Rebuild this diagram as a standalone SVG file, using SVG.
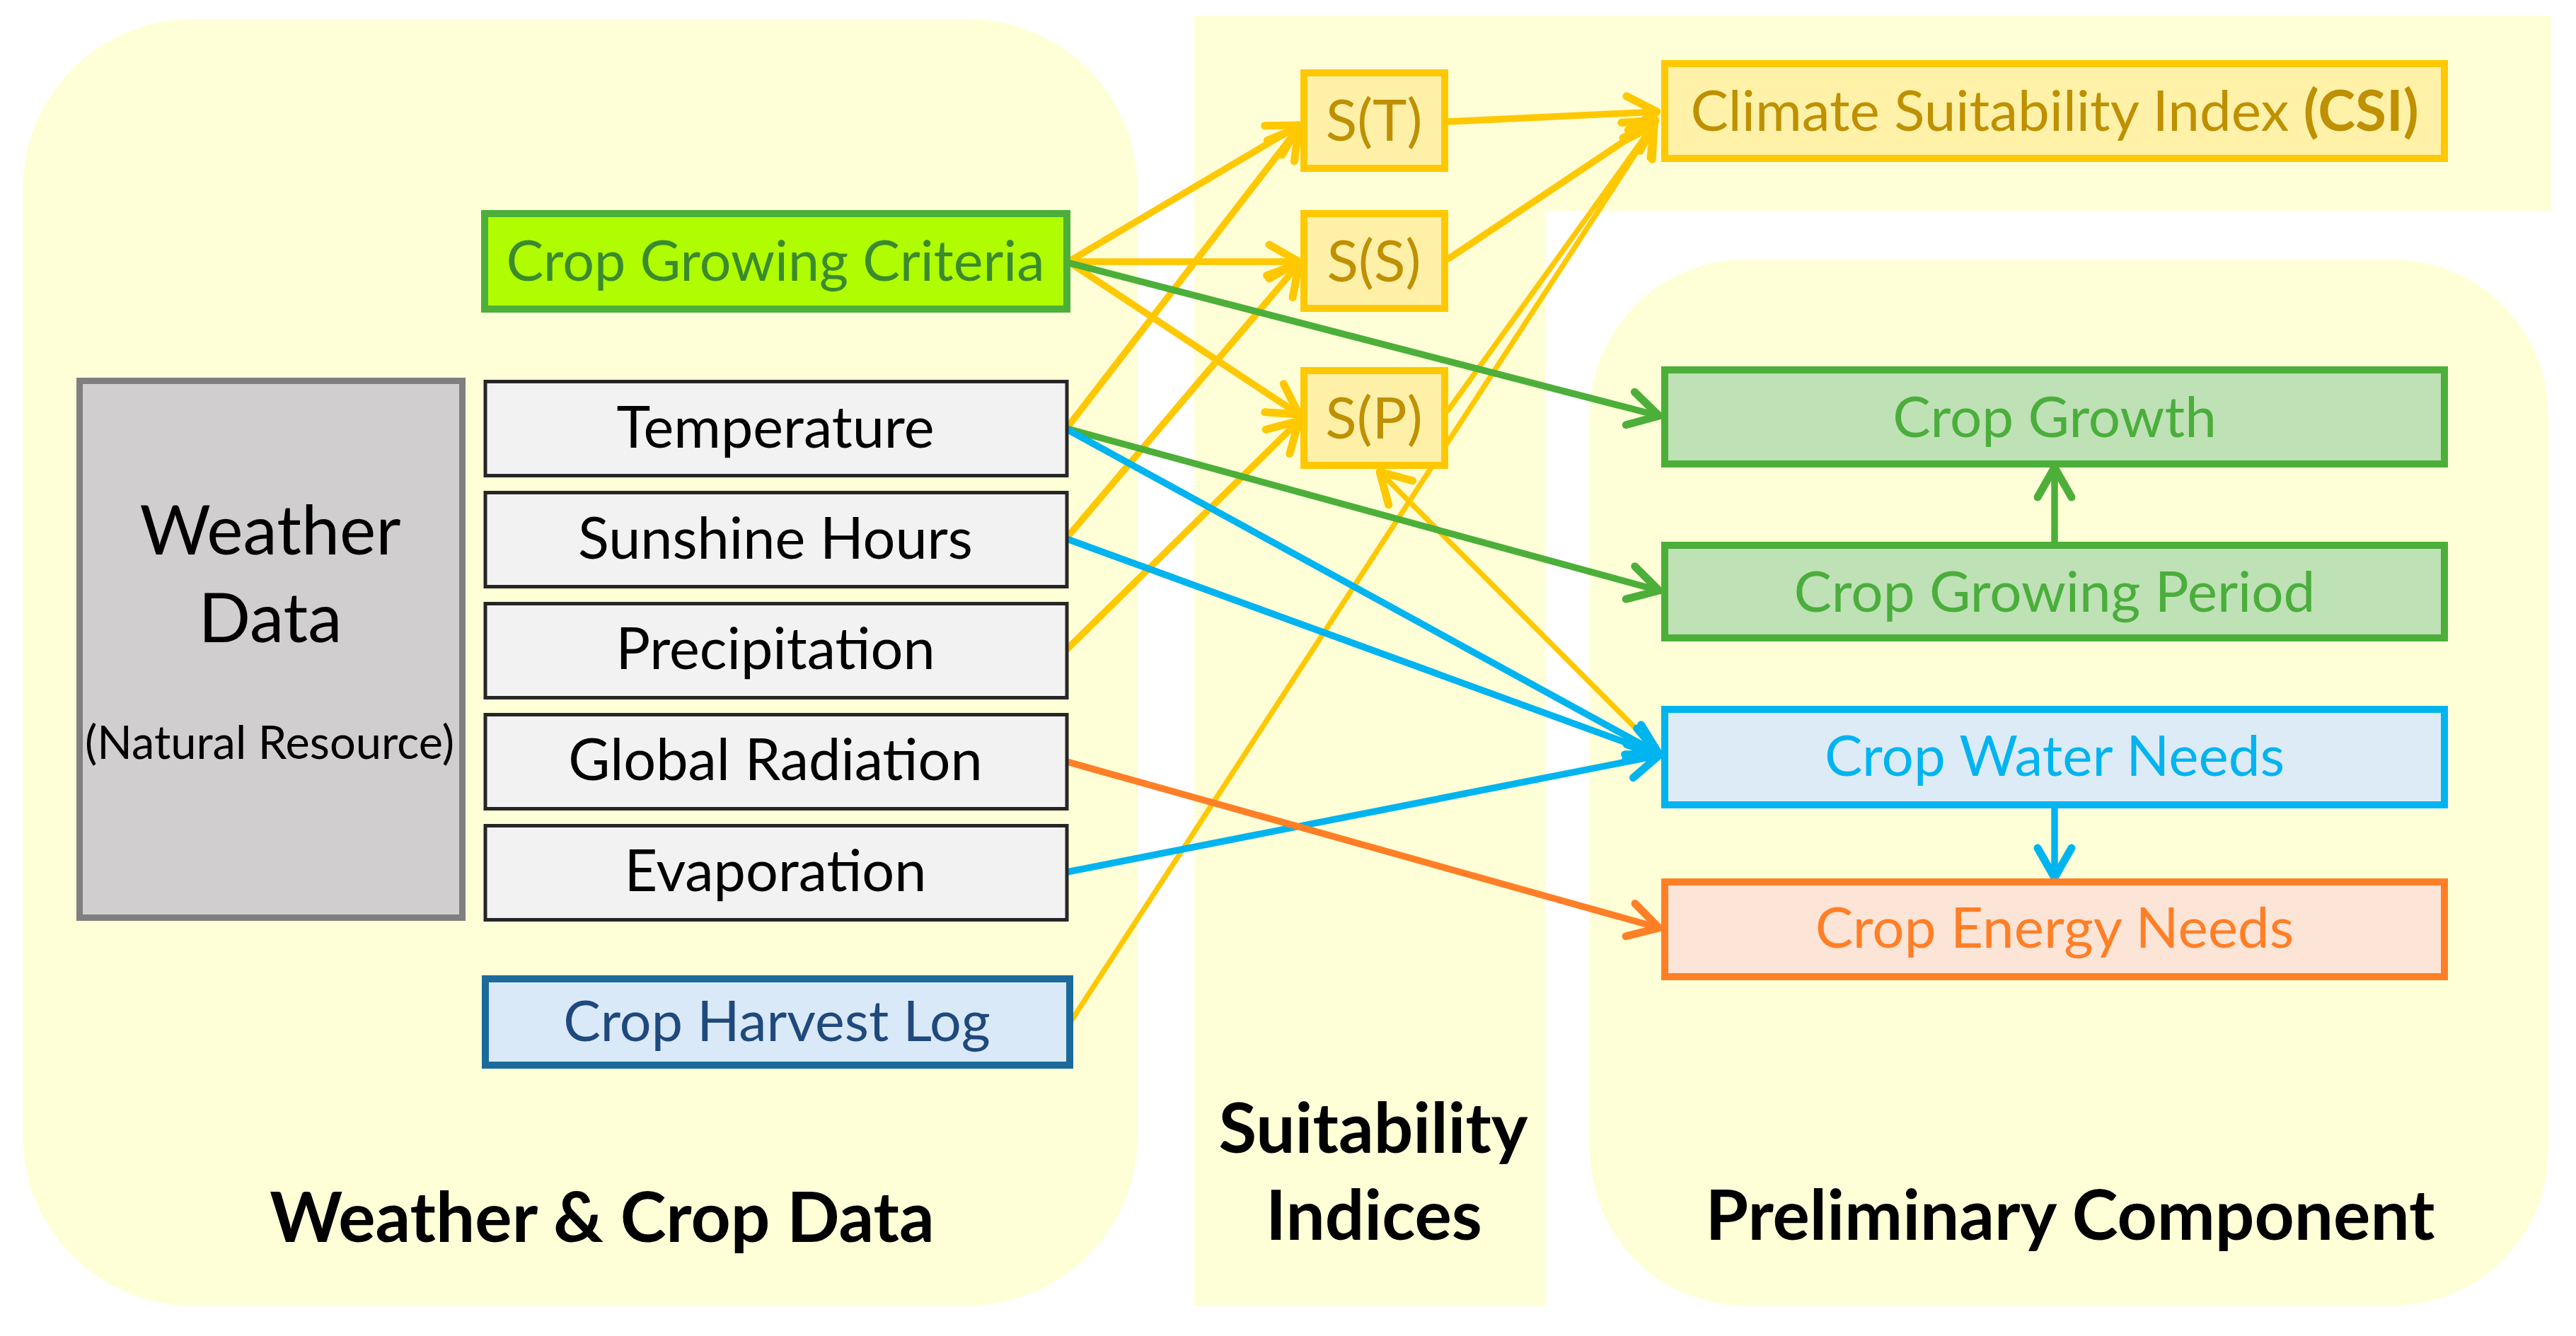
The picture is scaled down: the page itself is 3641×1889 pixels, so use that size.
<svg xmlns="http://www.w3.org/2000/svg" width="3641" height="1889" viewBox="0 0 3641 1889">
<style>
.bg{fill:#FFFFD7;stroke:none}
.t{font-family:Lato,"Liberation Sans",sans-serif;text-anchor:middle}
.b{font-weight:bold;fill:#000}
.wi{fill:#F2F2F2;stroke:#262626;stroke-width:5}
.sn{fill:#FFF0A8;stroke:#FFC800;stroke-width:10}
.st{fill:#BF9000;font-size:82px}
.wt{fill:#000;font-size:81px}
.rt{font-size:80px}
.ln{fill:none;stroke-width:9.5;stroke-linecap:round}
.thin{stroke-width:7.5}
.y{stroke:#FFC800;marker-end:url(#mY)}
.g{stroke:#4CAF3A;marker-end:url(#mG)}
.c{stroke:#00B4F0;marker-end:url(#mC)}
.o{stroke:#FF7F27;marker-end:url(#mO)}
</style>
<defs>
<marker id="mY" markerUnits="userSpaceOnUse" viewBox="-60 -35 70 70" markerWidth="70" markerHeight="70" refX="0" refY="0" orient="auto"><path d="M-42,-24 L0,0 L-42,24" fill="none" stroke="#FFC800" stroke-width="11" stroke-linecap="round" stroke-linejoin="round"/></marker>
<marker id="mG" markerUnits="userSpaceOnUse" viewBox="-60 -35 70 70" markerWidth="70" markerHeight="70" refX="0" refY="0" orient="auto"><path d="M-42,-24 L0,0 L-42,24" fill="none" stroke="#4CAF3A" stroke-width="11" stroke-linecap="round" stroke-linejoin="round"/></marker>
<marker id="mC" markerUnits="userSpaceOnUse" viewBox="-60 -35 70 70" markerWidth="70" markerHeight="70" refX="0" refY="0" orient="auto"><path d="M-42,-24 L0,0 L-42,24" fill="none" stroke="#00B4F0" stroke-width="11" stroke-linecap="round" stroke-linejoin="round"/></marker>
<marker id="mO" markerUnits="userSpaceOnUse" viewBox="-60 -35 70 70" markerWidth="70" markerHeight="70" refX="0" refY="0" orient="auto"><path d="M-42,-24 L0,0 L-42,24" fill="none" stroke="#FF7F27" stroke-width="11" stroke-linecap="round" stroke-linejoin="round"/></marker>
</defs>
<rect width="3641" height="1889" fill="#FFFFFF"/>
<g id="backgrounds">
<rect class="bg" x="32" y="27" width="1576" height="1819" rx="240" ry="240"/>
<rect class="bg" x="1688" y="22" width="496" height="1824"/>
<rect class="bg" x="2184" y="22" width="1422" height="276"/>
<rect class="bg" x="2247" y="367" width="1355" height="1479" rx="220" ry="220"/>
</g>
<g id="connectors">
<line class="ln y" x1="1510" y1="370" x2="1836" y2="177"/>
<line class="ln y" x1="1510" y1="370" x2="1836" y2="370"/>
<line class="ln y" x1="1510" y1="370" x2="1836" y2="586"/>
<line class="ln y" x1="1508" y1="605" x2="1836" y2="180"/>
<line class="ln y" x1="1508" y1="760" x2="1836" y2="373"/>
<line class="ln y" x1="1508" y1="918" x2="1836" y2="595"/>
<line class="ln y" x1="2047" y1="172" x2="2342" y2="158"/>
<line class="ln y" x1="2047" y1="366" x2="2340" y2="170"/>
<line class="ln y thin" x1="2047" y1="580" x2="2338" y2="175"/>
<line class="ln y thin" x1="1515" y1="1442" x2="2338" y2="177"/>
<line class="ln y thin" x1="2350" y1="1068" x2="1950" y2="667"/>
<line class="ln g" x1="1512" y1="372" x2="2345" y2="588"/>
<line class="ln g" x1="1508" y1="606" x2="2345" y2="835"/>
<line class="ln g" x1="2904" y1="768" x2="2904" y2="661"/>
<line class="ln c" x1="1508" y1="607" x2="2345" y2="1066"/>
<line class="ln c" x1="1508" y1="762" x2="2345" y2="1067"/>
<line class="ln c" x1="1508" y1="1233" x2="2345" y2="1068"/>
<line class="ln c" x1="2904" y1="1143" x2="2904" y2="1241"/>
<line class="ln o" x1="1508" y1="1077" x2="2345" y2="1312"/>
</g>
<g id="node-weather-data">
<rect x="112.5" y="538.5" width="541" height="759" fill="#D0CECE" stroke="#7F7F7F" stroke-width="9"/>
<text class="t" x="382" y="784" font-size="97" fill="#000">Weather</text>
<text class="t" x="382" y="908" font-size="97" fill="#000">Data</text>
<text class="t" x="381" y="1073" font-size="65" fill="#000">(Natural Resource)</text>
</g>
<g id="node-crop-growing-criteria">
<rect x="685" y="302" width="823" height="135" fill="#B0FC00" stroke="#4CAF3A" stroke-width="10"/>
<text class="t" x="1096" y="397" font-size="79" fill="#3A8A2E">Crop Growing Criteria</text>
</g>
<g id="node-temperature"><rect class="wi" x="686" y="539.5" width="822" height="133"/><text class="t wt" x="1096" y="633">Temperature</text></g>
<g id="node-sunshine"><rect class="wi" x="686" y="696.5" width="822" height="133"/><text class="t wt" x="1096" y="790">Sunshine Hours</text></g>
<g id="node-precipitation"><rect class="wi" x="686" y="853.5" width="822" height="133"/><text class="t wt" x="1096" y="946">Precipitation</text></g>
<g id="node-global-radiation"><rect class="wi" x="686" y="1010.5" width="822" height="133"/><text class="t wt" x="1096" y="1103">Global Radiation</text></g>
<g id="node-evaporation"><rect class="wi" x="686" y="1167.5" width="822" height="133"/><text class="t wt" x="1096" y="1260">Evaporation</text></g>
<g id="node-crop-harvest-log">
<rect x="686" y="1384" width="826" height="122" fill="#DAE9F8" stroke="#1B6A9B" stroke-width="10"/>
<text class="t" x="1098" y="1472" font-size="79" fill="#1F497D">Crop Harvest Log</text>
</g>
<g id="node-st"><rect class="sn" x="1843" y="103" width="199" height="135"/><text class="t st" x="1942" y="199">S(T)</text></g>
<g id="node-ss"><rect class="sn" x="1843" y="302" width="199" height="134"/><text class="t st" x="1942" y="398">S(S)</text></g>
<g id="node-sp"><rect class="sn" x="1843" y="524" width="199" height="134"/><text class="t st" x="1942" y="620">S(P)</text></g>
<g id="node-csi">
<rect x="2353" y="90" width="1102" height="134" fill="#FFF2A8" stroke="#FFC800" stroke-width="10"/>
<text class="t rt" x="2904" y="185" fill="#BF9000">Climate Suitability Index <tspan font-weight="bold">(CSI)</tspan></text>
</g>
<g id="node-crop-growth">
<rect x="2353" y="523" width="1102" height="133" fill="#BEE1B5" stroke="#4CAF3A" stroke-width="10"/>
<text class="t rt" x="2904" y="618" fill="#4BAE3C">Crop Growth</text>
</g>
<g id="node-crop-growing-period">
<rect x="2353" y="771" width="1102" height="131" fill="#BEE1B5" stroke="#4CAF3A" stroke-width="10"/>
<text class="t rt" x="2904" y="865" fill="#4BAE3C">Crop Growing Period</text>
</g>
<g id="node-crop-water-needs">
<rect x="2353" y="1003" width="1102" height="135" fill="#DDEBF7" stroke="#00B4F0" stroke-width="10"/>
<text class="t rt" x="2904" y="1097" fill="#00B4F0">Crop Water Needs</text>
</g>
<g id="node-crop-energy-needs">
<rect x="2353" y="1247" width="1102" height="134" fill="#FCE4D6" stroke="#FF7F27" stroke-width="10"/>
<text class="t rt" x="2904" y="1340" fill="#FF7F27">Crop Energy Needs</text>
</g>
<g id="titles">
<text class="t b" x="851" y="1756" font-size="98">Weather &amp; Crop Data</text>
<text class="t b" x="1941" y="1630" font-size="98">Suitability</text>
<text class="t b" x="1942" y="1753" font-size="98">Indices</text>
<text class="t b" x="2926" y="1753" font-size="98">Preliminary Component</text>
</g>
</svg>
